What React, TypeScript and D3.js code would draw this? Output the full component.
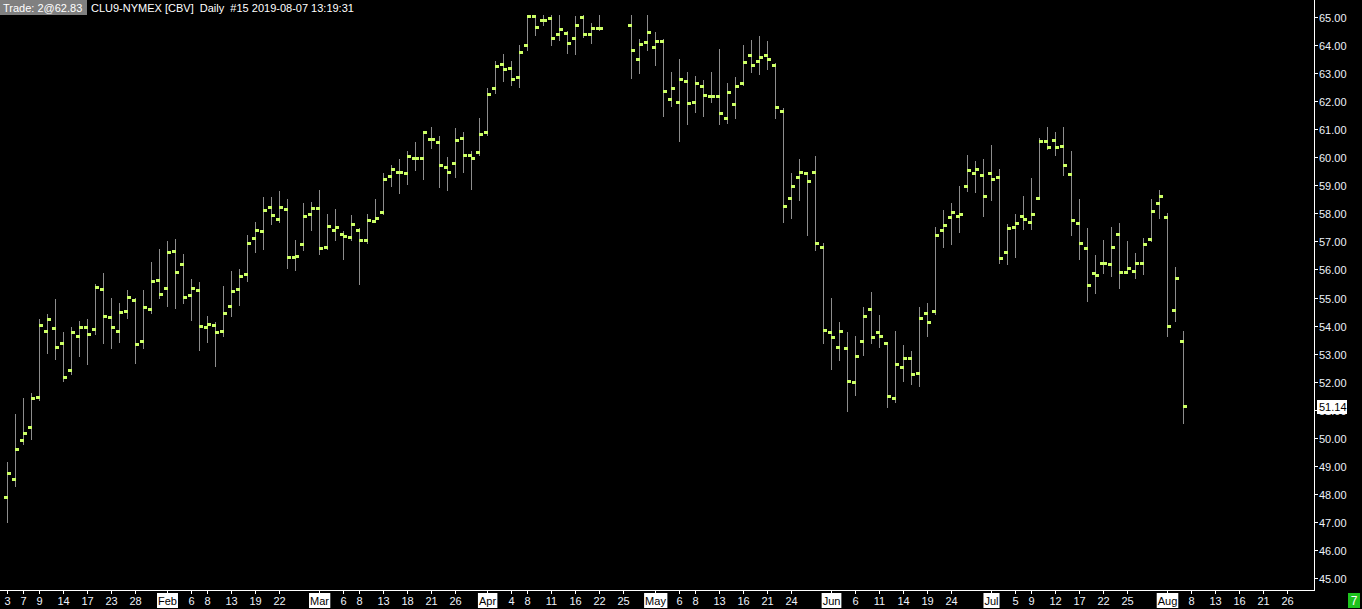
import React, { useEffect, useRef } from 'react';
import * as d3 from 'd3';

const W = 1362;
const H = 609;

// OHLC per trading-day slot (index 0 = 2019-01-03); null = no bar in that slot
const opens: (number | null)[] = [
  47.87, 48.52, 49.91, 50.37, 51.44, 53.79, 53.90, 53.37, 52.40, 53.62,
  53.94, 53.87, 55.29, 54.29, 53.79, 54.51, 54.90, 53.44, 54.58, 55.61,
  55.33, 56.65, 56.18, 55.08, 55.26, 53.94, 54.01, 53.79, 54.69, 55.29,
  55.83, 57.11, 57.36, 58.22, 57.79, 58.14, 56.43, 56.90, 57.96, 58.18,
  56.79, 57.39, 57.25, 57.15, 57.39, 57.04, 57.71, 58.04, 59.32, 59.46,
  59.43, 59.96, 59.96, 60.64, 60.53, 59.64, 59.78, 60.67, 60.07, 60.17,
  60.89, 62.46, 63.31, 63.17, 62.85, 63.99, 65.05, 64.88, 64.95, 64.38,
  64.42, 64.24, 64.99, 64.38, 64.60, null, null, null, 64.70, 63.49,
  64.10, 63.92, 64.13, 62.06, 61.96, 62.71, 61.96, 62.53, 62.17, 62.17,
  61.39, 61.89, 62.64, 63.63, 63.42, 63.63, 63.28, 61.64, 58.54, 59.28,
  59.43, 59.46, 56.79, 53.76, 53.22, 53.19, 51.98, 53.44, 54.58, 53.76,
  53.37, 51.41, 52.51, 52.83, 52.30, 54.44, 54.51, 57.39, 57.86, 57.89,
  58.96, 59.43, 59.36, 59.43, 59.28, 56.61, 57.50, 57.89, 57.68, 58.54,
  60.57, 60.60, 60.39, 59.39, 57.64, 56.75, 55.86, 56.22, 56.18, 57.25,
  55.90, 55.93, 56.22, 57.07, 58.36, 57.86, 54.54, 53.44,
];
const highs: (number | null)[] = [
  49.15, 50.85, 51.43, 51.60, 54.23, 54.41, 54.95, 53.77, 53.95, 54.16,
  54.23, 55.48, 55.87, 54.98, 54.80, 55.27, 54.98, 55.27, 56.27, 56.73,
  57.01, 57.09, 56.55, 55.66, 55.55, 54.34, 54.11, 55.41, 55.94, 56.02,
  57.23, 57.69, 58.58, 58.58, 58.80, 58.51, 57.05, 58.37, 58.40, 58.83,
  57.98, 58.15, 57.37, 57.94, 57.48, 57.98, 58.51, 59.44, 59.72, 59.94,
  60.22, 60.54, 60.90, 61.08, 60.76, 60.01, 61.04, 60.90, 60.22, 61.40,
  62.47, 63.43, 63.68, 63.43, 64.00, 65.07, 65.07, 65.07, 65.07, 65.07,
  64.50, 65.04, 65.07, 64.79, 65.07, null, null, null, 65.07, 64.22,
  65.07, 64.47, 64.20, 63.04, 63.50, 63.04, 62.90, 62.75, 63.04, 63.86,
  62.65, 62.86, 64.00, 64.18, 64.32, 64.14, 63.36, 61.74, 59.44, 59.94,
  59.45, 60.04, 56.93, 54.98, 54.13, 53.77, 53.63, 54.66, 55.20, 54.38,
  53.40, 53.81, 53.31, 53.09, 54.66, 54.80, 57.51, 58.12, 58.37, 58.98,
  60.08, 59.87, 59.94, 60.44, 59.58, 57.62, 57.98, 58.62, 59.26, 60.69,
  61.08, 60.90, 61.08, 60.22, 58.51, 57.48, 56.52, 57.05, 57.51, 57.66,
  57.01, 56.59, 57.12, 58.51, 58.83, 58.00, 56.09, 53.81,
];
const lows: (number | null)[] = [
  47.01, 48.29, 49.77, 49.97, 51.36, 53.03, 52.82, 52.03, 52.28, 52.93,
  52.64, 53.71, 53.39, 53.21, 53.43, 54.28, 52.68, 53.21, 54.46, 54.99,
  54.71, 54.64, 54.82, 54.21, 53.14, 53.43, 52.57, 53.64, 54.35, 54.75,
  55.60, 56.63, 56.74, 57.63, 57.70, 56.06, 55.99, 56.70, 57.42, 56.56,
  56.74, 57.06, 56.38, 57.06, 55.49, 56.95, 57.70, 57.98, 58.99, 58.74,
  59.06, 59.56, 59.24, 60.34, 58.95, 58.83, 59.30, 59.47, 58.87, 60.08,
  60.79, 62.29, 62.72, 62.58, 62.50, 63.82, 64.36, 64.71, 64.00, 64.18,
  63.72, 63.68, 64.29, 64.07, 64.54, null, null, null, 62.84, 63.02,
  63.84, 63.30, 61.48, 61.84, 60.59, 61.20, 61.63, 61.48, 61.98, 61.20,
  61.23, 61.41, 62.58, 63.05, 62.98, 63.16, 61.41, 57.70, 57.85, 58.48,
  57.24, 56.69, 53.39, 52.46, 52.78, 50.97, 51.54, 52.96, 53.39, 53.25,
  51.08, 51.29, 52.04, 51.93, 51.86, 53.64, 54.40, 56.81, 56.92, 57.35,
  58.81, 58.77, 57.92, 58.49, 56.24, 56.21, 56.46, 57.45, 57.45, 58.50,
  60.30, 60.09, 59.38, 57.24, 56.38, 54.89, 55.17, 55.89, 55.78, 55.35,
  55.89, 55.71, 55.85, 57.00, 57.85, 53.64, 54.17, 50.54,
];
const closes: (number | null)[] = [
  48.73, 49.59, 50.16, 51.41, 54.01, 54.22, 53.22, 52.15, 53.76, 53.94,
  53.69, 55.37, 54.33, 53.94, 54.47, 55.01, 53.33, 54.65, 55.58, 55.11,
  56.61, 55.90, 55.01, 55.33, 53.97, 54.04, 53.76, 54.44, 55.22, 55.75,
  56.93, 57.39, 58.11, 57.93, 58.22, 56.43, 56.47, 57.89, 58.18, 56.75,
  57.54, 57.50, 57.18, 57.61, 57.04, 57.75, 57.82, 59.21, 59.57, 59.46,
  60.03, 59.96, 60.89, 60.64, 59.71, 59.46, 60.60, 60.07, 59.96, 60.82,
  62.24, 63.24, 63.13, 62.78, 63.74, 65.05, 64.63, 64.88, 64.24, 64.56,
  64.06, 64.70, 64.38, 64.60, 64.60, null, null, null, 63.81, 64.03,
  64.45, 64.13, 62.35, 62.46, 62.78, 61.92, 62.64, 62.21, 62.17, 61.57,
  62.31, 62.53, 63.38, 63.28, 63.56, 63.49, 61.78, 58.25, 58.96, 59.46,
  59.14, 56.93, 53.83, 53.58, 53.79, 52.01, 52.90, 54.33, 53.58, 53.62,
  51.48, 52.62, 52.83, 52.26, 54.26, 54.12, 57.22, 57.57, 58.04, 57.97,
  59.53, 59.57, 58.61, 59.21, 56.40, 57.47, 57.64, 57.79, 57.97, 60.57,
  60.35, 60.35, 59.71, 57.75, 56.93, 55.43, 55.79, 56.22, 56.79, 55.90,
  56.04, 56.22, 56.90, 58.07, 58.61, 53.97, 55.68, 51.14,
];

// x-axis labels: slot index, text, is month label
const tickSlots = [0, 2, 4, 7, 10, 13, 16, 20, 23, 25, 28, 31, 34, 39, 42, 44, 47, 50, 53, 56,
  60, 63, 65, 68, 71, 74, 77, 81, 84, 86, 89, 92, 95, 98, 103, 106, 109, 112, 115, 118,
  123, 126, 128, 131, 134, 137, 140, 145, 148, 151, 154, 157, 160];
const tickTexts = ['3', '7', '9', '14', '17', '23', '28', 'Feb', '6', '8', '13', '19', '22', 'Mar', '6', '8', '13', '18', '21', '26',
  'Apr', '4', '8', '11', '16', '22', '25', 'May', '6', '8', '13', '16', '21', '24', 'Jun', '6', '11', '14', '19', '24',
  'Jul', '5', '9', '12', '17', '22', '25', 'Aug', '8', '13', '16', '21', '26'];
const monthNames = ['Feb', 'Mar', 'Apr', 'May', 'Jun', 'Jul', 'Aug'];

const priceTicks = d3.range(45, 66, 1);
const lastPrice = 51.14;
const titleTag = 'Trade: 2@62.83';
const titleText = 'CLU9-NYMEX [CBV]  Daily  #15 2019-08-07 13:19:31';
const cornerTag = '7';

const FONT = '"Liberation Sans", Arial, sans-serif';

export default function App() {
  const ref = useRef<SVGSVGElement>(null);

  useEffect(() => {
    const svg = d3.select(ref.current);
    svg.selectAll('*').remove();

    const x = d3.scaleLinear().domain([0, 160]).range([7, 1287]);
    const y = d3.scaleLinear().domain([45, 65]).range([578, 17]);

    svg.append('rect').attr('width', W).attr('height', H).attr('fill', '#000');

    const bars = opens.map((o, i) => ({ i, o, h: highs[i], l: lows[i], c: closes[i] }))
      .filter(d => d.o != null);

    const g = svg.append('g');
    bars.forEach(d => {
      const cx = Math.round(x(d.i));
      g.append('rect')
        .attr('x', cx).attr('y', Math.round(y(d.h as number)))
        .attr('width', 1)
        .attr('height', Math.max(1, Math.round(y(d.l as number)) - Math.round(y(d.h as number)) + 1))
        .attr('fill', '#8c8c8c');
    });
    bars.forEach(d => {
      const cx = Math.round(x(d.i));
      g.append('rect')
        .attr('x', cx - 3).attr('y', Math.round(y(d.o as number)) - 1)
        .attr('width', 4).attr('height', 3).attr('fill', '#ccff66');
      g.append('rect')
        .attr('x', cx).attr('y', Math.round(y(d.c as number)) - 1)
        .attr('width', 4).attr('height', 3).attr('fill', '#ccff66');
    });

    // axes lines
    svg.append('line').attr('x1', 1314.5).attr('x2', 1314.5).attr('y1', 0).attr('y2', 591)
      .attr('stroke', '#fff').attr('stroke-width', 1);
    svg.append('line').attr('x1', 0).attr('x2', 1315).attr('y1', 590.5).attr('y2', 590.5)
      .attr('stroke', '#fff').attr('stroke-width', 1);

    // price axis
    const ya = svg.append('g');
    priceTicks.forEach(v => {
      const yy = Math.round(y(v));
      ya.append('line').attr('x1', 1315).attr('x2', 1318).attr('y1', yy + 0.5).attr('y2', yy + 0.5)
        .attr('stroke', '#fff');
      ya.append('text').attr('x', 1319).attr('y', yy + 4.5)
        .attr('fill', '#eef2fa').attr('font-family', FONT).attr('font-size', 11)
        .text(v.toFixed(2));
    });
    const ly = Math.round(y(lastPrice));
    ya.append('rect').attr('x', 1317).attr('y', ly - 6).attr('width', 30).attr('height', 14).attr('fill', '#fff');
    ya.append('text').attr('x', 1319).attr('y', ly + 5)
      .attr('fill', '#000').attr('font-family', FONT).attr('font-size', 11).text(lastPrice.toFixed(2));

    // date axis
    const xa = svg.append('g');
    tickSlots.forEach((s, k) => {
      const cx = Math.round(x(s)) + 0.5;
      const label = tickTexts[k];
      const isMonth = monthNames.includes(label);
      xa.append('line').attr('x1', cx).attr('x2', cx).attr('y1', 591).attr('y2', 594).attr('stroke', '#fff');
      const t = xa.append('text').attr('x', cx).attr('y', 605).attr('text-anchor', 'middle')
        .attr('font-family', FONT).attr('font-size', 11)
        .attr('fill', isMonth ? '#000' : '#eef2fa').text(label);
      if (isMonth) {
        const bb = (t.node() as SVGTextElement).getBBox();
        xa.insert('rect', () => t.node() as SVGTextElement)
          .attr('x', bb.x - 1).attr('y', 593).attr('width', bb.width + 2).attr('height', 15)
          .attr('fill', '#fff');
      }
    });

    svg.append('rect').attr('x', 1348).attr('y', 593).attr('width', 12).attr('height', 15).attr('fill', '#1ec31e');
    svg.append('text').attr('x', 1354).attr('y', 605).attr('text-anchor', 'middle')
      .attr('font-family', FONT).attr('font-size', 12).attr('fill', '#fff').text(cornerTag);

    // title
    svg.append('rect').attr('x', 0).attr('y', 0).attr('width', 87).attr('height', 15).attr('fill', '#808080');
    svg.append('text').attr('x', 3).attr('y', 12).attr('font-family', FONT).attr('font-size', 11)
      .attr('fill', '#fff').text(titleTag);
    svg.append('text').attr('x', 91).attr('y', 12).attr('font-family', FONT).attr('font-size', 11)
      .attr('fill', '#fff').style('white-space', 'pre').text(titleText);
  }, []);

  return (
    <svg ref={ref} width={W} height={H}
      style={{ position: 'absolute', left: 0, top: 0, display: 'block', background: '#000' }} />
  );
}
